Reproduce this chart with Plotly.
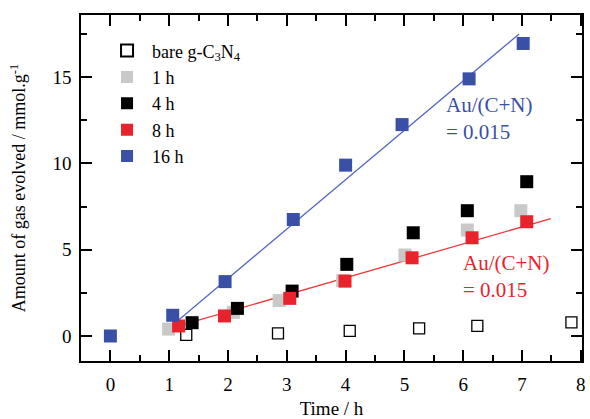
import plotly.graph_objects as go

# Data
bare_x = [1.29, 2.85, 4.07, 5.25, 6.24, 7.84]
bare_y = [0.06, 0.15, 0.29, 0.44, 0.58, 0.79]

h1_x = [0.99, 2.09, 2.87, 3.95, 5.01, 6.07, 6.98]
h1_y = [0.40, 1.37, 2.05, 3.20, 4.69, 6.14, 7.26]

h4_x = [1.39, 2.16, 3.09, 4.02, 5.15, 6.07, 7.08]
h4_y = [0.77, 1.60, 2.60, 4.15, 5.98, 7.26, 8.94]

h8_x = [1.16, 1.94, 3.05, 3.99, 5.13, 6.15, 7.08]
h8_y = [0.58, 1.16, 2.18, 3.18, 4.53, 5.69, 6.62]

h16_x = [0.0, 1.06, 1.95, 3.11, 4.00, 4.96, 6.10, 7.02]
h16_y = [0.0, 1.20, 3.15, 6.75, 9.90, 12.25, 14.90, 16.95]

fit16_x = [1.16, 6.95]
fit16_y = [0.93, 17.5]
fit8_x = [1.16, 7.49]
fit8_y = [0.58, 6.80]

names = ["bare g-C<sub>3</sub>N<sub>4</sub>", "1 h", "4 h", "8 h", "16 h"]

BLUE = "#3a4fa6"
RED = "#e8232b"
GRAY = "#c9c9c9"
BLACK = "#000000"
FONT = "Liberation Serif, Times New Roman, serif"

fig = go.Figure()

# fit lines
fig.add_trace(go.Scatter(x=fit8_x, y=fit8_y, mode="lines",
                         line=dict(color="#ec3a3a", width=1.3), showlegend=False, hoverinfo="skip"))
fig.add_trace(go.Scatter(x=fit16_x, y=fit16_y, mode="lines",
                         line=dict(color="#5566c4", width=1.3), showlegend=False, hoverinfo="skip"))

fig.add_trace(go.Scatter(x=bare_x, y=bare_y, mode="markers", name=names[0], legendgroup="a",
                         marker=dict(symbol="square-open", size=11, color=BLACK, line=dict(width=1.3, color=BLACK))))
fig.add_trace(go.Scatter(x=h1_x, y=h1_y, mode="markers", name=names[1], legendgroup="b",
                         marker=dict(symbol="square", size=13, color=GRAY)))
fig.add_trace(go.Scatter(x=h4_x, y=h4_y, mode="markers", name=names[2], legendgroup="c",
                         marker=dict(symbol="square", size=13, color=BLACK)))
fig.add_trace(go.Scatter(x=h8_x, y=h8_y, mode="markers", name=names[3], legendgroup="d",
                         marker=dict(symbol="square", size=13, color=RED)))
fig.add_trace(go.Scatter(x=h16_x, y=h16_y, mode="markers", name=names[4], legendgroup="e",
                         marker=dict(symbol="square", size=13, color=BLUE)))

fig.add_annotation(x=5.68, y=14.2, xref="x", yref="y", text="Au/(C+N)<br>= 0.015",
                   showarrow=False, xanchor="left", yanchor="top", align="left",
                   font=dict(family=FONT, size=21, color=BLUE))
fig.add_annotation(x=5.96, y=5.05, xref="x", yref="y", text="Au/(C+N)<br>= 0.015",
                   showarrow=False, xanchor="left", yanchor="top", align="left",
                   font=dict(family=FONT, size=21, color=RED))

axis_common = dict(showline=True, linecolor="black", linewidth=1.5, mirror="allticks",
                   ticks="inside", tickcolor="black", tickwidth=1.5, ticklen=11,
                   showgrid=False, zeroline=False, automargin=False,
                   ticklabeloverflow="allow",
                   tickfont=dict(family=FONT, size=19, color="black"))

fig.update_xaxes(range=[-0.5, 8.02], tick0=0, dtick=1, ticklabelstandoff=5,
                 minor=dict(ticks="inside", dtick=0.5, ticklen=6, tickwidth=1.5, tickcolor="black", showgrid=False),
                 title=dict(text="Time / h", font=dict(family=FONT, size=19, color="black"), standoff=17),
                 **axis_common)
fig.update_yaxes(range=[-1.45, 18.6], tick0=0, dtick=5, ticklabelstandoff=4,
                 minor=dict(ticks="inside", dtick=2.5, ticklen=6, tickwidth=1.5, tickcolor="black", showgrid=False),
                 title=dict(text="Amount of gas evolved / mmol.g<sup>-1</sup>", font=dict(family=FONT, size=18, color="black"), standoff=22),
                 **axis_common)

fig.update_layout(
    width=590, height=419,
    margin=dict(l=81, r=8, t=15, b=58),
    paper_bgcolor="white", plot_bgcolor="white",
    font=dict(family=FONT, color="black"),
    legend=dict(x=0.042, y=0.95, xanchor="left", yanchor="top", bgcolor="rgba(0,0,0,0)",
                font=dict(family=FONT, size=18, color="black"), itemwidth=40,
                tracegroupgap=0, itemsizing="constant"),
    showlegend=True,
)

# remove the default 8px page margin so the 590x419 figure fills the window exactly
fig.write_html("out.html", config={"displayModeBar": False},
               post_script="document.body.style.margin='0';document.documentElement.style.overflow='hidden';")
